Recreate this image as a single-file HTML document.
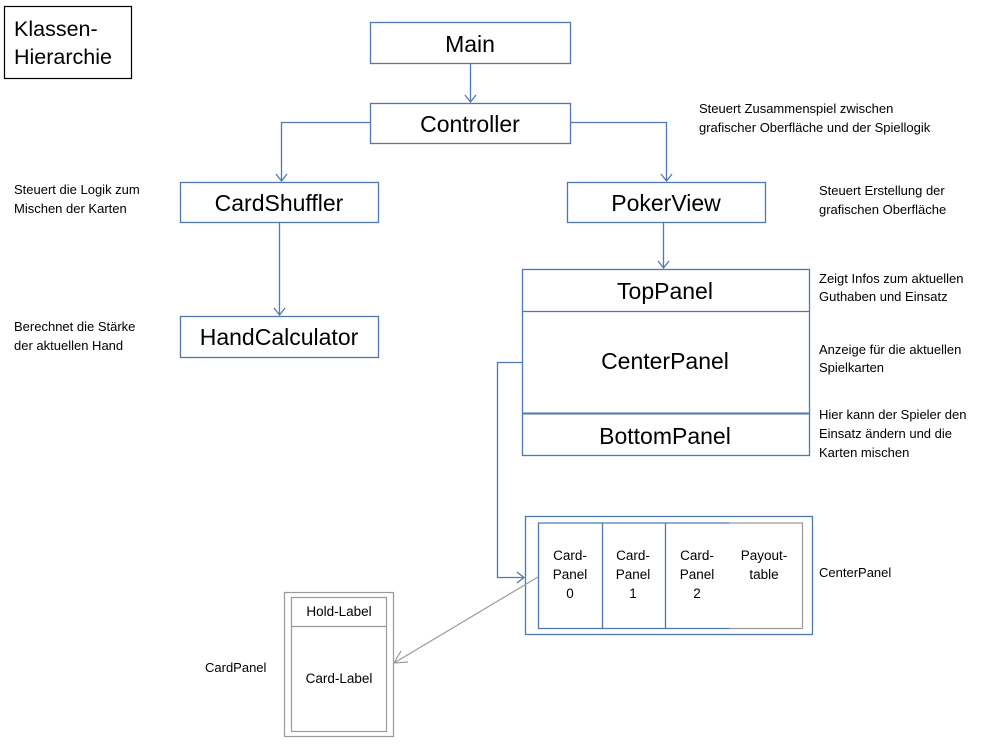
<!DOCTYPE html>
<html><head><meta charset="utf-8"><style>
html,body{margin:0;padding:0;background:#fff;}
svg{display:block;}
text{font-family:"Liberation Sans",sans-serif;fill:#000;}
.b{font-size:23px;text-anchor:middle;}
.a{font-size:13px;}
.s{font-size:13.5px;text-anchor:middle;}
</style></head><body>
<svg width="996" height="746" viewBox="0 0 996 746" xmlns="http://www.w3.org/2000/svg">
<g fill="none" stroke="#4f78b0" stroke-width="1.3">
<rect x="370.5" y="22.5" width="200" height="41"/>
<rect x="370.5" y="103.5" width="200" height="40"/>
<rect x="180.5" y="182.5" width="198" height="40"/>
<rect x="567.5" y="182.5" width="198" height="40"/>
<rect x="180.5" y="316.5" width="198" height="41"/>
<rect x="522.5" y="269.5" width="287" height="186"/>
<line x1="522" y1="311.5" x2="810" y2="311.5"/>
<line x1="522" y1="413.5" x2="810" y2="413.5" stroke-width="2"/>
<rect x="525.5" y="516.5" width="287" height="118"/>
<line x1="602.5" y1="523" x2="602.5" y2="628"/>
<line x1="665.5" y1="523" x2="665.5" y2="628"/>
<path d="M729.5 523 H538.5 V628.5 H729.5"/>
<path d="M470.5 64 V102"/><path d="M465 95 L470.5 102 L476 95"/>
<path d="M370 122.5 H281.5 V181"/><path d="M276 174 L281.5 181 L287 174"/>
<path d="M571 122.5 H666.5 V181"/><path d="M661 174 L666.5 181 L672 174"/>
<path d="M663.5 223 V268"/><path d="M658 261 L663.5 268 L669 261"/>
<path d="M279.5 223 V315"/><path d="M274 308 L279.5 315 L285 308"/>
<path d="M522 362.5 H497.5 V577.5 H524"/><path d="M517 572 L524 577.5 L517 583"/>
</g>
<g fill="none" stroke="#9a9a9a" stroke-width="1.2">
<path d="M729.5 523 H802.5 V628.5 H729.5"/>
<rect x="284.5" y="592.5" width="109" height="144"/>
<rect x="291.5" y="597.5" width="95" height="134"/>
<line x1="291" y1="626.5" x2="387" y2="626.5"/>
<line x1="538" y1="577" x2="394" y2="663"/>
<path d="M401 651 L394 663 L408 662"/>
</g>
<rect x="4.5" y="6.5" width="127" height="72" fill="none" stroke="#000" stroke-width="1.2"/>
<text x="14" y="36" style="font-size:21.5px">Klassen-</text>
<text x="14" y="64" style="font-size:21.5px">Hierarchie</text>
<text class="b" x="470" y="52">Main</text>
<text class="b" x="470" y="132">Controller</text>
<text class="b" x="279" y="211">CardShuffler</text>
<text class="b" x="666" y="211">PokerView</text>
<text class="b" x="279" y="345">HandCalculator</text>
<text class="b" x="665" y="299">TopPanel</text>
<text class="b" x="665" y="369">CenterPanel</text>
<text class="b" x="665" y="444">BottomPanel</text>
<text class="a" x="699" y="113">Steuert Zusammenspiel zwischen</text>
<text class="a" x="699" y="132">grafischer Oberfläche und der Spiellogik</text>
<text class="a" x="819" y="195">Steuert Erstellung der</text>
<text class="a" x="819" y="214">grafischen Oberfläche</text>
<text class="a" x="14" y="194">Steuert die Logik zum</text>
<text class="a" x="14" y="213">Mischen der Karten</text>
<text class="a" x="14" y="331">Berechnet die Stärke</text>
<text class="a" x="14" y="350">der aktuellen Hand</text>
<text class="a" x="819" y="283">Zeigt Infos zum aktuellen</text>
<text class="a" x="819" y="301">Guthaben und Einsatz</text>
<text class="a" x="819" y="354">Anzeige für die aktuellen</text>
<text class="a" x="819" y="372">Spielkarten</text>
<text class="a" x="819" y="419">Hier kann der Spieler den</text>
<text class="a" x="819" y="438">Einsatz ändern und die</text>
<text class="a" x="819" y="457">Karten mischen</text>
<text class="a" x="819" y="577">CenterPanel</text>
<text class="a" x="205" y="672">CardPanel</text>
<text class="s" x="570" y="560">Card-</text><text class="s" x="570" y="579">Panel</text><text class="s" x="570" y="598">0</text>
<text class="s" x="633" y="560">Card-</text><text class="s" x="633" y="579">Panel</text><text class="s" x="633" y="598">1</text>
<text class="s" x="697" y="560">Card-</text><text class="s" x="697" y="579">Panel</text><text class="s" x="697" y="598">2</text>
<text class="s" x="764" y="560">Payout-</text><text class="s" x="764" y="579">table</text>
<text class="s" x="339" y="616">Hold-Label</text>
<text class="s" x="339" y="683">Card-Label</text>
</svg>
</body></html>
